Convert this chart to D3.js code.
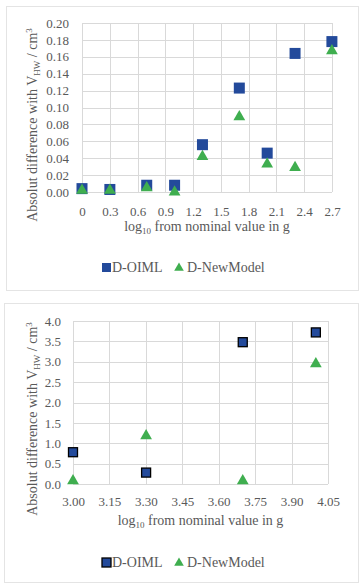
<!DOCTYPE html>
<meta charset="utf-8">
<script src="https://d3js.org/d3.v7.min.js"></script>
<style>
  body { margin: 0; background: #fff; }
  svg text { font-family: "Liberation Serif", "DejaVu Serif", "Times New Roman", serif !important; fill: #595959; }
</style>
<div id="chart"></div>
<script>

// data: log10 of nominal mass vs absolute difference
var xTop = [0, 0.301, 0.699, 1, 1.301, 1.699, 2, 2.301, 2.699]
var oimlTop = [0.004, 0.003, 0.008, 0.008, 0.056, 0.123, 0.046, 0.164, 0.178]
var newTop = [0.002, 0.002, 0.005, 0.000, 0.042, 0.089, 0.033, 0.029, 0.167]
var xTicksTop = [0, 0.3, 0.6, 0.9, 1.2, 1.5, 1.8, 2.1, 2.4, 2.7]
var yTicksTop = [0, 0.02, 0.04, 0.06, 0.08, 0.10, 0.12, 0.14, 0.16, 0.18, 0.20]

var xBot = [3.0, 3.301, 3.699, 4.0]
var oimlBot = [0.78, 0.28, 3.48, 3.72]
var newBot = [0.08, 1.18, 0.08, 2.95]
var xTicksBot = [3.00, 3.15, 3.30, 3.45, 3.60, 3.75, 3.90, 4.05]
var yTicksBot = [0, 0.5, 1.0, 1.5, 2.0, 2.5, 3.0, 3.5, 4.0]

var blue = "#234a9b", green = "#3fae4f", grid = "#d9d9d9"

var svg = d3.select("#chart")
  .append("svg")
  .attr("width", 364)
  .attr("height", 588)

function drawChart(cfg) {
  // outer frame
  svg.append("rect")
    .attr("x", cfg.frame[0] + 0.5).attr("y", cfg.frame[1] + 0.5)
    .attr("width", cfg.frame[2]).attr("height", cfg.frame[3])
    .attr("fill", "none").attr("stroke", "#e4e4e4")

  var x = d3.scaleLinear().domain(cfg.xDomain).range([cfg.left, cfg.right])
  var y = d3.scaleLinear().domain(cfg.yDomain).range([cfg.bottom, cfg.top])

  var g = svg.append("g")

  // grid
  g.selectAll(".vg").data(cfg.xTicks).enter().append("line")
    .attr("x1", d => Math.round(x(d)) + 0.5).attr("x2", d => Math.round(x(d)) + 0.5)
    .attr("y1", cfg.top).attr("y2", cfg.bottom)
    .attr("stroke", grid)
  g.selectAll(".hg").data(cfg.yTicks).enter().append("line")
    .attr("y1", d => Math.round(y(d)) + 0.5).attr("y2", d => Math.round(y(d)) + 0.5)
    .attr("x1", cfg.left).attr("x2", cfg.right)
    .attr("stroke", grid)

  // axes (labels only)
  g.append("g")
    .attr("transform", "translate(0," + cfg.bottom + ")")
    .call(d3.axisBottom(x).tickValues(cfg.xTicks).tickFormat(cfg.xFmt).tickSize(0).tickPadding(cfg.xPad))
  g.append("g")
    .attr("transform", "translate(" + cfg.left + ",0)")
    .call(d3.axisLeft(y).tickValues(cfg.yTicks).tickFormat(cfg.yFmt).tickSize(0).tickPadding(cfg.yPad))
  g.selectAll(".domain").remove()
  g.selectAll(".tick text")
    .style("font-size", "13px")
    .attr("fill", "#595959")

  // axis titles
  var xt = g.append("text")
    .attr("x", (cfg.left + cfg.right) / 2).attr("y", cfg.xTitleY)
    .attr("text-anchor", "middle").style("font-size", "14px")
  xt.append("tspan").text("log")
  xt.append("tspan").text("10").style("font-size", "9px").attr("dy", 3)
  xt.append("tspan").text(" from nominal value in g").attr("dy", -3)

  var yt = g.append("text")
    .attr("transform", "translate(" + cfg.yTitleX + "," + cfg.yTitleY + ") rotate(-90)")
    .attr("text-anchor", "middle").style("font-size", "14px")
  yt.append("tspan").text("Absolut difference with V")
  yt.append("tspan").text("HW").style("font-size", "9px").attr("dy", 3)
  yt.append("tspan").text(" / cm").attr("dy", -3)
  yt.append("tspan").text("3").style("font-size", "9px").attr("dy", -5)

  // markers
  var s = cfg.sq
  g.selectAll(".oiml").data(cfg.xs).enter().append("rect")
    .attr("x", d => x(d) - s / 2)
    .attr("y", (d, i) => y(cfg.oiml[i]) - s / 2)
    .attr("width", s).attr("height", s)
    .attr("fill", blue)
    .attr("stroke", cfg.outline ? "#000" : "none").attr("stroke-width", 1.3)

  var tri = d3.symbol().type(d3.symbolTriangle).size(cfg.tri)
  g.selectAll(".nm").data(cfg.xs).enter().append("path")
    .attr("d", tri)
    .attr("transform", (d, i) => "translate(" + x(d) + "," + y(cfg.nm[i]) + ")")
    .attr("fill", green)

  // legend
  var lg = g.append("g").attr("transform", "translate(0," + cfg.legendY + ")")
  lg.append("rect").attr("x", 102).attr("y", -8).attr("width", 9).attr("height", 9)
    .attr("fill", blue).attr("stroke", cfg.outline ? "#000" : "none").attr("stroke-width", 1.3)
  lg.append("text").attr("x", 112).attr("y", 1).style("font-size", "14px").text("D-OIML")
  lg.append("path").attr("d", d3.symbol().type(d3.symbolTriangle).size(40))
    .attr("transform", "translate(179,-3)").attr("fill", green)
  lg.append("text").attr("x", 187).attr("y", 1).style("font-size", "14px").text("D-NewModel")
}

drawChart({
  frame: [6, 6, 352, 284],
  left: 82, right: 332, top: 23, bottom: 192,
  xDomain: [0, 2.7], yDomain: [0, 0.20],
  xTicks: xTicksTop, yTicks: yTicksTop,
  xFmt: d => String(d), yFmt: d3.format(".2f"),
  xPad: 15, yPad: 13,
  xs: xTop, oiml: oimlTop, nm: newTop,
  xTitleY: 231, yTitleX: 37, yTitleY: 125,
  legendY: 271, sq: 11, tri: 60, outline: false
})

drawChart({
  frame: [4, 303, 354, 279],
  left: 73, right: 328, top: 321, bottom: 484,
  xDomain: [3.0, 4.05], yDomain: [0, 4.0],
  xTicks: xTicksBot, yTicks: yTicksBot,
  xFmt: d3.format(".2f"), yFmt: d3.format(".1f"),
  xPad: 13, yPad: 12,
  xs: xBot, oiml: oimlBot, nm: newBot,
  xTitleY: 525, yTitleX: 37, yTitleY: 419,
  legendY: 566, sq: 9, tri: 60, outline: true
})

</script>
